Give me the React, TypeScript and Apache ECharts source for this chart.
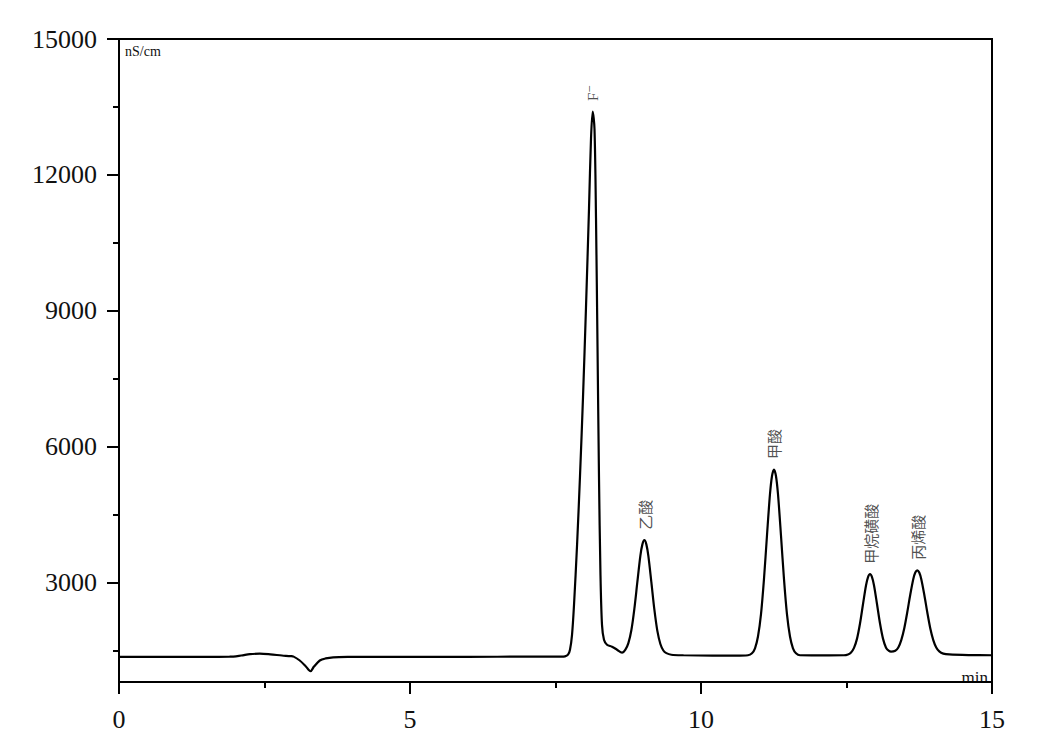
import React, { useEffect, useRef } from "react";
import * as echarts from "echarts";

// Chromatogram trace (time in min, conductivity in nS/cm)
const timeMin: number[] = [
  0.0, 0.5, 1.0, 1.5, 1.9, 2.1, 2.25, 2.42, 2.6, 2.8, 2.95, 3.0, 3.1, 3.2, 3.29, 3.35, 3.45, 3.55, 3.68, 3.97,
  4.5, 5.5, 6.5, 7.3, 7.6,
  7.663, 7.715, 7.749, 7.784, 7.818, 7.87, 7.921, 7.973, 8.024, 8.076, 8.11, 8.139, 8.17, 8.196, 8.222, 8.247,
  8.273, 8.299, 8.333, 8.385, 8.471, 8.557, 8.643,
  8.701, 8.752, 8.804, 8.855, 8.907, 8.958, 8.993, 9.027, 9.061, 9.096, 9.147, 9.199, 9.25, 9.302, 9.353, 9.405,
  9.49, 9.7, 10.2, 10.6,
  10.807, 10.876, 10.928, 10.979, 11.031, 11.082, 11.134, 11.185, 11.22, 11.254, 11.288, 11.323, 11.374, 11.426,
  11.477, 11.529, 11.58, 11.632, 11.701, 11.9, 12.2,
  12.457, 12.526, 12.578, 12.629, 12.681, 12.732, 12.784, 12.835, 12.87, 12.904, 12.938, 12.973, 13.024, 13.076,
  13.127, 13.179, 13.23, 13.265,
  13.338, 13.39, 13.441, 13.493, 13.544, 13.596, 13.647, 13.682, 13.716, 13.75, 13.785, 13.836, 13.888, 13.939,
  13.991, 14.042, 14.094, 14.163, 14.266, 14.6, 15.0,
];
const signal: number[] = [
  1365, 1365, 1365, 1366, 1368, 1395, 1425, 1435, 1420, 1395, 1380, 1370, 1290, 1170, 1047, 1150, 1285, 1330, 1355, 1363,
  1365, 1365, 1367, 1370, 1370,
  1375, 1413, 1523, 1851, 2508, 3822, 5355, 7107, 9078, 11268, 12801, 13400, 13020, 11049, 8202, 5355,
  3165, 2070, 1742, 1632, 1588, 1523, 1457,
  1525, 1668, 1957, 2425, 3023, 3595, 3847, 3940, 3847, 3590, 3013, 2405, 1937, 1648, 1505, 1447,
  1412, 1400, 1392, 1390,
  1400, 1445, 1554, 1813, 2307, 3079, 4049, 4953, 5356, 5500, 5356, 4953, 4049, 3079,
  2307, 1813, 1554, 1445, 1400, 1398, 1398,
  1400, 1419, 1461, 1562, 1767, 2100, 2531, 2941, 3124, 3190, 3124, 2941, 2531, 2100,
  1767, 1568, 1495, 1480,
  1500, 1572, 1735, 1997, 2348, 2741, 3080, 3225, 3275, 3225, 3080, 2741, 2348, 1997,
  1735, 1572, 1485, 1437, 1418, 1405, 1400,
];

// Peak labels
const peakNames: string[] = ["F⁻", "乙酸", "甲酸", "甲烷磺酸", "丙烯酸"];
const peakTimes: number[] = [8.139, 9.027, 11.254, 12.904, 13.716];
const peakHeights: number[] = [13400, 3940, 5500, 3190, 3275];

// Axis ticks
const xTickInterval = 5;
const yMajorTicks: number[] = [3000, 6000, 9000, 12000, 15000];
const yMinorTicks: number[] = [1500, 4500, 7500, 10500, 13500];
const yMin = 810;
const yMax = 15000;

const SERIF = "'Liberation Serif', 'DejaVu Serif', serif";
const CJK = "'Noto Sans CJK SC', sans-serif";

export default function App() {
  const ref = useRef<HTMLDivElement>(null);

  useEffect(() => {
    if (!ref.current) return;
    const chart = echarts.init(ref.current, undefined, { renderer: "svg" });

    const trace = timeMin.map((t, i) => [t, signal[i]]);
    const labels = peakNames.map((n, i) => {
      const item: any = { value: [peakTimes[i], peakHeights[i]], name: n };
      if (i === 0) item.label = { fontFamily: SERIF, fontSize: 15 };
      return item;
    });

    const black = { color: "#000", width: 2 };

    chart.setOption({
      animation: false,
      backgroundColor: "#fff",
      grid: {
        left: 119,
        right: 53,
        top: 39,
        bottom: 44,
        show: true,
        borderColor: "#000",
        borderWidth: 2,
        backgroundColor: "transparent",
      },
      xAxis: {
        type: "value",
        min: 0,
        max: 15,
        interval: xTickInterval,
        axisLine: { show: true, onZero: false, lineStyle: black },
        axisTick: { show: true, length: 12, lineStyle: black },
        minorTick: { show: true, splitNumber: 2, length: 6, lineStyle: black },
        splitLine: { show: false },
        minorSplitLine: { show: false },
        axisLabel: { fontFamily: SERIF, fontSize: 26, color: "#111", margin: 24 },
      },
      yAxis: [
        {
          type: "value",
          min: yMin,
          max: yMax,
          position: "left",
          axisLine: { show: true, onZero: false, lineStyle: black },
          axisTick: { show: true, length: 12, lineStyle: black, customValues: yMajorTicks },
          axisLabel: {
            fontFamily: SERIF,
            fontSize: 26,
            color: "#111",
            margin: 22,
            customValues: yMajorTicks,
            formatter: (v: number) => String(v),
          },
          splitLine: { show: false },
        },
        {
          type: "value",
          min: yMin,
          max: yMax,
          position: "left",
          axisLine: { show: false },
          axisTick: { show: true, length: 6, lineStyle: black, customValues: yMinorTicks },
          axisLabel: { show: false },
          splitLine: { show: false },
        },
      ],
      graphic: [
        {
          type: "text",
          x: 125,
          y: 51,
          style: { text: "nS/cm", font: `14px ${SERIF}`, fill: "#111", align: "left", verticalAlign: "middle" },
        },
        {
          type: "text",
          x: 988,
          y: 677,
          style: { text: "min", font: `17px ${SERIF}`, fill: "#111", align: "right", verticalAlign: "middle" },
        },
      ],
      series: [
        {
          type: "line",
          data: trace,
          showSymbol: false,
          smooth: 0.3,
          lineStyle: { color: "#000", width: 2.2 },
          silent: true,
          z: 3,
        },
        {
          type: "scatter",
          data: labels,
          symbol: "circle",
          symbolSize: 1,
          itemStyle: { color: "rgba(0,0,0,0)" },
          silent: true,
          label: {
            show: true,
            position: "top",
            distance: 10,
            rotate: 90,
            align: "left",
            verticalAlign: "middle",
            fontFamily: CJK,
            fontSize: 15,
            color: "#222",
            formatter: "{b}",
          },
          labelLayout: { hideOverlap: false },
          z: 4,
        },
      ],
    });

    return () => chart.dispose();
  }, []);

  return (
    <div
      ref={ref}
      style={{ position: "absolute", left: 0, top: 0, width: 1045, height: 732, background: "#fff" }}
    />
  );
}
